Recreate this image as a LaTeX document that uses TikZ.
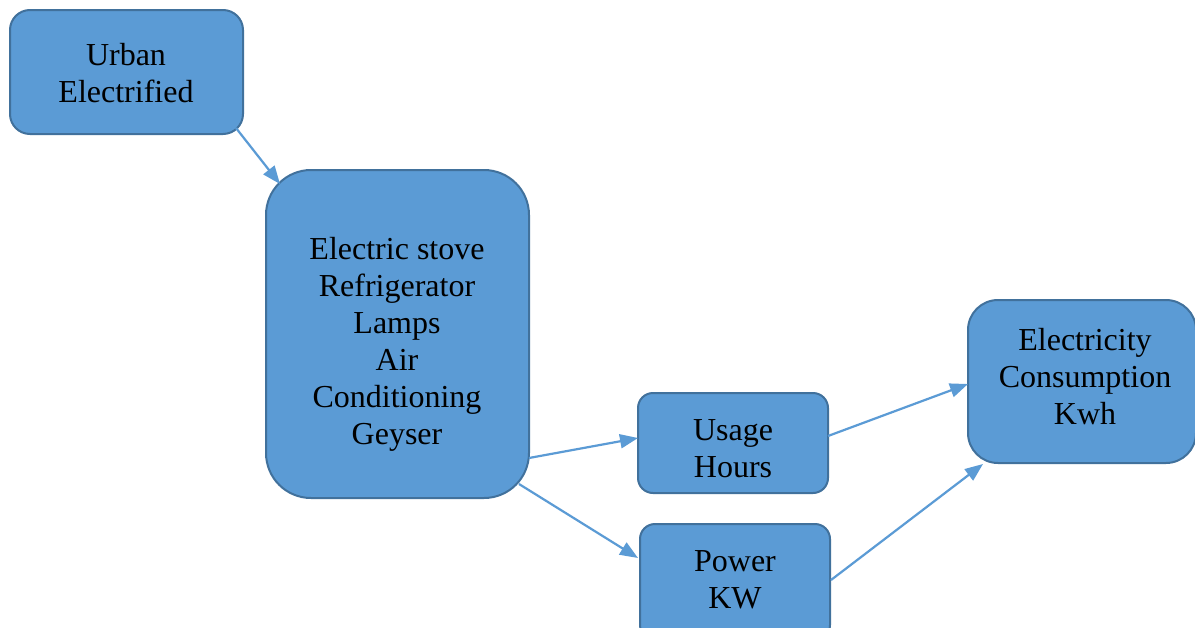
\documentclass[tikz,border=0pt]{standalone}
\usepackage{fontspec}
\setmainfont{Liberation Serif}
\usetikzlibrary{arrows.meta}
\definecolor{boxfill}{HTML}{5B9BD5}
\definecolor{boxedge}{HTML}{41719C}
\definecolor{arrowcol}{HTML}{5B9BD5}
\tikzset{
  box/.style={draw=boxedge, fill=boxfill, line width=2pt, inner sep=0pt},
  txt/.style={align=center, inner sep=0pt, font=\fontsize{32}{37}\selectfont},
  conn/.style={draw=arrowcol, line width=2.2pt,
    -{Triangle[length=18pt,width=14pt]}}
}
\begin{document}
\begin{tikzpicture}[x=1pt,y=-1pt]
\useasboundingbox (0,0) rectangle (1195,627);
\fill[white] (0,0) rectangle (1195,627);
\node[box, rounded corners=20pt, minimum width=233pt, minimum height=124pt] (urban) at (126.5,72) {};
\node[box, rounded corners=45pt, minimum width=263pt, minimum height=328pt] (big) at (397.5,334) {};
\node[box, rounded corners=15pt, minimum width=190pt, minimum height=100pt] (usage) at (733,443) {};
\node[box, rounded corners=15pt, minimum width=190pt, minimum height=116pt] (power) at (735,582) {};
\node[box, rounded corners=30pt, minimum width=228pt, minimum height=163pt] (elec) at (1082,381.5) {};
\node[txt] (urbantxt) at (126,73.5) {Urban\\Electrified};
\node[txt] (bigtxt) at (397,344) {Electric stove\\Refrigerator\\Lamps\\Air\\Conditioning\\Geyser};
\node[txt] (usagetxt) at (733,449) {Usage\\Hours};
\node[txt] (powertxt) at (735,580) {Power\\KW};
\node[txt] (electxt) at (1085,377) {Electricity\\Consumption\\Kwh};
\draw[conn] ([shift={(109.5,56)}]urban.center) -- ([shift={(-117.5,-150)}]big.center);
\draw[conn] ([shift={(131.5,124)}]big.center) -- ([shift={(-95,-5)}]usage.center);
\draw[conn] ([shift={(121.5,150)}]big.center) -- ([shift={(-97,-24)}]power.center);
\draw[conn] ([shift={(95,-7)}]usage.center) -- ([shift={(-114,2.5)}]elec.center);
\draw[conn] ([shift={(96,-2)}]power.center) -- ([shift={(-99,82.5)}]elec.center);
\end{tikzpicture}
\end{document}
